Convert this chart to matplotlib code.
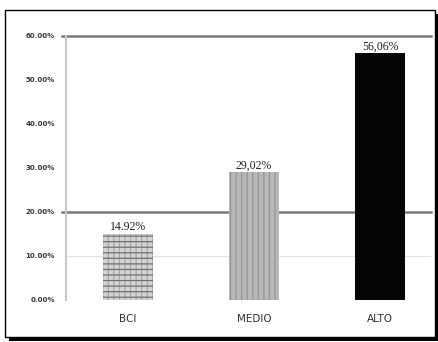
import matplotlib.pyplot as plt
from matplotlib.patches import Rectangle

# datos
categorias = ['BCI', 'MEDIO', 'ALTO']
valores = [14.92, 29.02, 56.06]
etiquetas = ['14.92%', '29,02%', '56,06%']
ticks_y = [0, 10, 20, 30, 40, 50, 60]
ticks_txt = ['0.00%', '10.00%', '20.00%', '30.00%', '40.00%', '50.00%', '60.00%']

W, H = 439, 342
fig = plt.figure(figsize=(W / 100, H / 100), dpi=100)

# marco con sombra
fig.patches.append(Rectangle((9 / W, 1 - 341 / H), 430 / W, 327 / H,
                             transform=fig.transFigure, facecolor='black',
                             edgecolor='none', zorder=0))
fig.patches.append(Rectangle((5 / W, 1 - 337 / H), 430 / W, 327 / H,
                             transform=fig.transFigure, facecolor='white',
                             edgecolor='black', linewidth=1.0, zorder=1))

ax = fig.add_axes([66 / W, 1 - 300 / H, (431 - 66) / W, (300 - 36) / H])
ax.set_zorder(2)
ax.patch.set_alpha(0)

plt.rcParams['hatch.linewidth'] = 0.9
x = list(range(len(categorias)))
b = ax.bar(x, valores, width=0.4, zorder=3, linewidth=0)
b[0].set_facecolor('#d4d4d4')
b[0].set_hatch('|||')
b[0].set_edgecolor('#a8a8a8')
b[1].set_facecolor('#b8b8b8')
b[1].set_hatch('|||')
b[1].set_edgecolor('#959595')
b[2].set_facecolor('#050505')
# rayas horizontales de la primera barra
ax.bar(x[0], valores[0], width=0.4, zorder=3.5, linewidth=0,
       facecolor='none', hatch='---', edgecolor='#707070')

for i, v in enumerate(valores):
    ax.text(i, v + 0.2, etiquetas[i], ha='center', va='bottom',
            family='Liberation Serif', fontsize=8.5, color='#202020', zorder=4)

# lineas de referencia (arrancan un poco antes del eje)
ax.axhline(60, xmin=-0.012, color='#7a7a7a', lw=1.8, zorder=1, clip_on=False)
ax.axhline(20, xmin=-0.012, color='#7a7a7a', lw=1.8, zorder=1, clip_on=False)
ax.axhline(10, color='#e2e2e2', lw=0.8, zorder=1)

ax.set_xlim(-0.492, 2.405)
ax.set_ylim(0, 60)
ax.set_yticks(ticks_y)
ax.set_yticklabels(ticks_txt, fontsize=5, color='#383838', fontweight='bold')
ax.set_xticks(x)
ax.set_xticklabels(categorias, fontsize=7.5, color='#303030')
ax.tick_params(axis='both', length=0, pad=8)
ax.tick_params(axis='x', pad=10)
for s in ['top', 'right', 'bottom']:
    ax.spines[s].set_visible(False)
ax.spines['left'].set_color('#c8c8c8')
ax.spines['left'].set_linewidth(1.5)

plt.savefig('out.png', dpi=100)
